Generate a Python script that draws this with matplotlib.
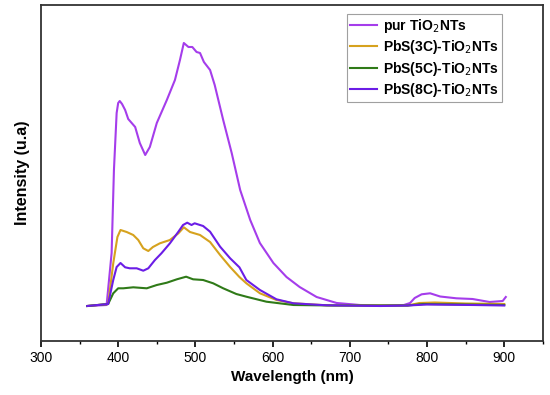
import matplotlib
matplotlib.use("Agg")
import matplotlib.pyplot as plt
from matplotlib.ticker import MultipleLocator

plt.rcParams['font.family'] = ['Liberation Sans', 'DejaVu Sans']

# PL spectra (intensity in arbitrary units)
wl_pur = [360, 385, 391.5, 394.5, 398, 400, 402, 405, 409, 413, 422, 428, 435, 441, 450, 463,
          473.5, 480, 485, 491, 496, 501.5, 506, 511, 519, 525, 536, 547, 558, 571,
          583.5, 601, 618, 635, 657, 683, 713, 740, 770, 778, 784, 793, 804, 817,
          838, 859, 881, 898, 902]
i_pur = [35, 36, 88, 171, 228, 238, 240, 237, 231, 222, 214, 198, 186, 194, 218, 241,
         261, 281, 298, 294, 294, 289, 288, 279, 271, 256, 221, 188, 151, 121,
         98, 78, 64, 54, 44, 38, 36, 35.5, 36, 38, 43, 46.7, 47.7, 44.5,
         42.7, 42, 39, 40, 44]

wl_3c = [360, 387, 393.6, 399, 403, 411, 419.5, 426, 432.5, 439, 445, 454, 467, 478,
         485, 493, 506, 519, 532, 545, 557, 566, 583.6, 605, 627, 670, 720, 775,
         790, 810, 850, 900]
i_3c = [35, 37, 77.7, 104, 111, 109, 106, 101, 92.7, 90, 94, 97.7, 101, 107.7,
        113.7, 109, 106, 99, 86, 74, 64, 57.7, 47.7, 41, 37.7, 35.7, 35.5, 35.5,
        38, 38.5, 37.5, 37]

wl_5c = [360, 387, 393.6, 400, 406.6, 419.5, 437, 450, 463, 476, 488, 497, 510, 523,
         536, 553, 566, 592, 627, 680, 775, 795, 850, 900]
i_5c = [35, 37, 47.7, 52.7, 52.7, 53.7, 52.7, 56, 58.3, 61.7, 64.3, 61.7, 61, 57.7,
        52.7, 47, 44.3, 39.3, 36, 35.5, 35.5, 37, 36.5, 36]

wl_8c = [360, 387, 393.6, 398, 403, 409, 415, 424, 432.5, 439, 447.6, 456, 467, 478,
         484, 489.4, 495, 499, 510, 519, 532, 545, 557, 566, 583.6, 605, 627, 670,
         740, 775, 800, 860, 900]
i_8c = [35, 37, 61, 74, 78, 73.7, 72.7, 72.7, 70.3, 72.7, 81, 87.7, 97.7, 109.3,
        116, 118.3, 116, 117.7, 115, 109.3, 94.3, 82.7, 73.7, 61, 51, 41.7, 37.7, 35.7,
        35, 35.5, 36.5, 36, 35.5]

labels = ['pur TiO$_2$NTs', 'PbS(3C)-TiO$_2$NTs', 'PbS(5C)-TiO$_2$NTs', 'PbS(8C)-TiO$_2$NTs']
colors = ['#A53DEB', '#D6A21E', '#2F7A18', '#6B1DE6']

fig = plt.figure(figsize=(5.5, 3.95), dpi=100)
ax = fig.add_axes([0.0745, 0.1367, 0.9125, 0.8494])

for wl, inten, lab, c in zip([wl_pur, wl_3c, wl_5c, wl_8c],
                             [i_pur, i_3c, i_5c, i_8c], labels, colors):
    ax.plot(wl, inten, color=c, lw=1.5, label=lab)

ax.set_xlim(300, 950)
ax.set_ylim(0, 335.5)
ax.xaxis.set_major_locator(MultipleLocator(100))
ax.xaxis.set_minor_locator(MultipleLocator(50))
ax.tick_params(axis='x', which='major', direction='out', length=4, width=1.2,
               labelsize=10, pad=3)
ax.tick_params(axis='x', which='minor', direction='out', length=2.5, width=1.0)
ax.set_yticks([])
for s in ax.spines.values():
    s.set_linewidth(1.3)
    s.set_color('#333333')

ax.set_xlabel('Wavelength (nm)', fontsize=11, fontweight='bold', labelpad=4)
ax.set_ylabel('Intensity (u.a)', fontsize=11.5, fontweight='bold', labelpad=8)

leg = ax.legend(loc='upper right', bbox_to_anchor=(0.918, 0.975), borderaxespad=0,
                fancybox=False, frameon=True, prop={'weight': 'bold', 'size': 10},
                handlelength=2.0, labelspacing=0.25, borderpad=0.2, handletextpad=0.4)
leg.get_frame().set_edgecolor('#888888')
leg.get_frame().set_linewidth(0.8)

fig.savefig('out.png', dpi=100)
